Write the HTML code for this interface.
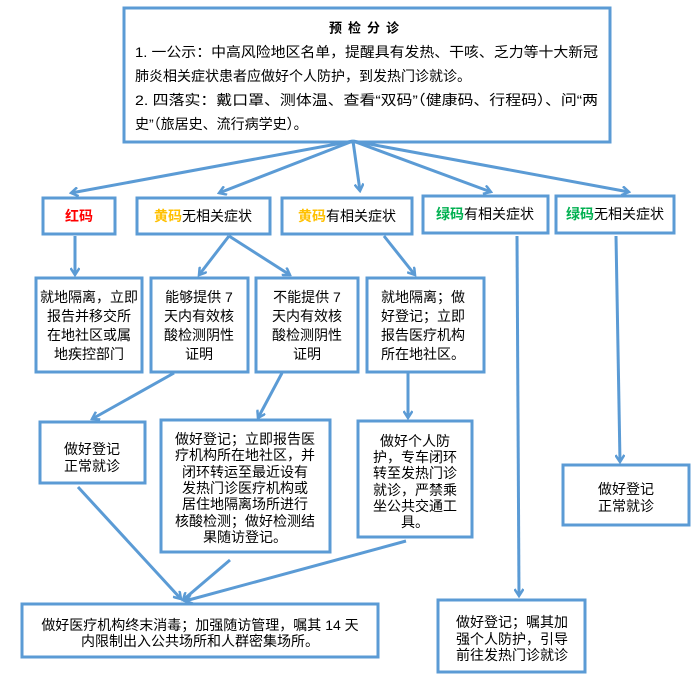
<!DOCTYPE html>
<html><head><meta charset="utf-8"><style>
html,body{margin:0;padding:0;background:#fff;}
svg{display:block;}
text{font-family:"Liberation Sans","Noto Sans CJK SC",sans-serif;fill:#000;}
</style></head><body>
<svg width="696" height="678" viewBox="0 0 696 678" xmlns="http://www.w3.org/2000/svg">
<defs>
<marker id="a" markerWidth="10" markerHeight="10" refX="8" refY="5" orient="auto" markerUnits="userSpaceOnUse">
<path d="M1,0.5 L8,5 L1,9.5" fill="none" stroke="#5b9bd5" stroke-width="2.5"/>
</marker>
</defs>
<g fill="none" stroke="#5b9bd5" stroke-width="3">
<rect x="124" y="8" width="486" height="134"/>
<rect x="43" y="198" width="72" height="36"/>
<rect x="137" y="198" width="133" height="36"/>
<rect x="282" y="198" width="130" height="36"/>
<rect x="423" y="196" width="125" height="37"/>
<rect x="556" y="196" width="118" height="37"/>
<rect x="36" y="278" width="106" height="94"/>
<rect x="151" y="278" width="97" height="94"/>
<rect x="256" y="278" width="102" height="94"/>
<rect x="367" y="278" width="117" height="94"/>
<rect x="40" y="422" width="105" height="61"/>
<rect x="161" y="420" width="169" height="132"/>
<rect x="358" y="421" width="114" height="116"/>
<rect x="563" y="465" width="126" height="60"/>
<rect x="22" y="604" width="356" height="53"/>
<rect x="438" y="600" width="147" height="72"/>
</g>
<g stroke="#5b9bd5" stroke-width="3" fill="none" marker-end="url(#a)">
<line x1="353" y1="141" x2="71" y2="193"/>
<line x1="353" y1="141" x2="219" y2="193"/>
<line x1="353" y1="141" x2="360" y2="191"/>
<line x1="353" y1="141" x2="491" y2="192"/>
<line x1="353" y1="141" x2="629" y2="192"/>
<line x1="75" y1="236" x2="75" y2="275"/>
<line x1="229" y1="236" x2="199" y2="275"/>
<line x1="229" y1="236" x2="290" y2="275"/>
<line x1="384" y1="236" x2="415" y2="275"/>
<line x1="174" y1="373" x2="92" y2="419"/>
<line x1="282" y1="373" x2="258" y2="418"/>
<line x1="408" y1="373" x2="408" y2="418"/>
<line x1="517" y1="236" x2="519" y2="596"/>
<line x1="616" y1="236" x2="620" y2="462"/>
<line x1="78" y1="487" x2="181" y2="599"/>
<line x1="230" y1="560" x2="183" y2="600"/>
<line x1="406" y1="541" x2="185" y2="601"/>
</g>
<g font-size="14" dominant-baseline="central">
<text x="367" y="28" text-anchor="middle" font-weight="bold" font-size="13" letter-spacing="6">预检分诊</text>
<text x="135" y="52" textLength="463" lengthAdjust="spacingAndGlyphs">1. 一公示：中高风险地区名单，提醒具有发热、干咳、乏力等十大新冠</text>
<text x="135" y="76">肺炎相关症状患者应做好个人防护，到发热门诊就诊。</text>
<text x="135" y="100" textLength="463" lengthAdjust="spacingAndGlyphs">2. 四落实：戴口罩、测体温、查看“双码”（健康码、行程码）、问“两</text>
<text x="135" y="124">史”（旅居史、流行病学史）。</text>

<text x="79" y="216" text-anchor="middle" font-weight="bold" fill="#ff0000" style="fill:#ff0000">红码</text>
<text x="203" y="216" text-anchor="middle"><tspan font-weight="bold" style="fill:#ffc000">黄码</tspan>无相关症状</text>
<text x="347" y="216" text-anchor="middle"><tspan font-weight="bold" style="fill:#ffc000">黄码</tspan>有相关症状</text>
<text x="485" y="214" text-anchor="middle"><tspan font-weight="bold" style="fill:#00b050">绿码</tspan>有相关症状</text>
<text x="615" y="214" text-anchor="middle"><tspan font-weight="bold" style="fill:#00b050">绿码</tspan>无相关症状</text>

<g text-anchor="middle">
<text x="89" y="297">就地隔离，立即</text>
<text x="89" y="316">报告并移交所</text>
<text x="89" y="335">在地社区或属</text>
<text x="89" y="354">地疾控部门</text>
<text x="199" y="297">能够提供 7</text>
<text x="199" y="316">天内有效核</text>
<text x="199" y="335">酸检测阴性</text>
<text x="199" y="354">证明</text>
<text x="307" y="297">不能提供 7</text>
<text x="307" y="316">天内有效核</text>
<text x="307" y="335">酸检测阴性</text>
<text x="307" y="354">证明</text>
</g>
<text x="381" y="297">就地隔离；做</text>
<text x="381" y="316">好登记；立即</text>
<text x="381" y="335">报告医疗机构</text>
<text x="381" y="354">所在地社区。</text>

<g text-anchor="middle">
<text x="92" y="449">做好登记</text>
<text x="92" y="466">正常就诊</text>
<text x="245" y="439">做好登记；立即报告医</text>
<text x="245" y="455">疗机构所在地社区，并</text>
<text x="245" y="472">闭环转运至最近设有</text>
<text x="245" y="488">发热门诊医疗机构或</text>
<text x="245" y="504">居住地隔离场所进行</text>
<text x="245" y="521">核酸检测；做好检测结</text>
<text x="245" y="537">果随访登记。</text>
<text x="415" y="441">做好个人防</text>
<text x="415" y="457">护，专车闭环</text>
<text x="415" y="473">转至发热门诊</text>
<text x="415" y="490">就诊，严禁乘</text>
<text x="415" y="506">坐公共交通工</text>
<text x="415" y="522">具。</text>
<text x="626" y="489">做好登记</text>
<text x="626" y="506">正常就诊</text>
<text x="200" y="625">做好医疗机构终末消毒；加强随访管理，嘱其 14 天</text>
<text x="200" y="641">内限制出入公共场所和人群密集场所。</text>
<text x="512" y="622">做好登记；嘱其加</text>
<text x="512" y="639">强个人防护，引导</text>
<text x="512" y="655">前往发热门诊就诊</text>
</g>
</g>
</svg>
</body></html>
